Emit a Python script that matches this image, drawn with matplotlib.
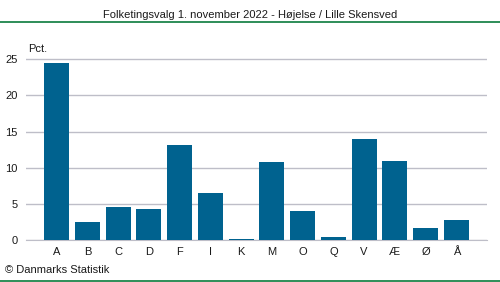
import matplotlib
matplotlib.use('Agg')
import matplotlib.pyplot as plt

plt.rcParams['font.family'] = ['Liberation Sans', 'DejaVu Sans']

parties = ['A', 'B', 'C', 'D', 'F', 'I', 'K', 'M', 'O', 'Q', 'V', 'Æ', 'Ø', 'Å']
pct = [24.5, 2.5, 4.6, 4.3, 13.1, 6.5, 0.2, 10.8, 4.0, 0.4, 14.0, 10.9, 1.7, 2.8]
yticks = [0, 5, 10, 15, 20, 25]

title = 'Folketingsvalg 1. november 2022 - Højelse / Lille Skensved'
bar_color = '#00628f'
grid_color = '#bebec8'
green = '#0a7a3c'

fig = plt.figure(figsize=(5.0, 2.82), dpi=100)
ax = fig.add_axes([26 / 500, 1 - 240 / 282, 461 / 500, 180.7 / 282 * 27 / 25])

x = list(range(len(parties)))
ax.bar(x, pct, width=0.81, color=bar_color, zorder=3)
ax.set_xlim(-1, len(parties))
ax.set_ylim(0, 27)
ax.set_yticks(yticks)
ax.set_xticks(x)
ax.set_xticklabels(parties)
ax.yaxis.grid(True, color=grid_color, linewidth=1, zorder=0)
ax.tick_params(axis='both', length=0, labelsize=8, colors='#1a1a1a')
ax.tick_params(axis='x', pad=5)
ax.tick_params(axis='y', pad=6)
for side in ['top', 'right', 'left']:
    ax.spines[side].set_visible(False)
ax.spines['bottom'].set_color(grid_color)

fig.text(0.5, 1 - 15 / 282, title, ha='center', va='center', fontsize=8, color='#1a1a1a')
fig.text(28 / 500, 1 - 49 / 282, 'Pct.', ha='left', va='center', fontsize=8, color='#1a1a1a')
fig.text(5 / 500, 1 - 270 / 282, '© Danmarks Statistik', ha='left', va='center', fontsize=8, color='#1a1a1a')

fig.add_artist(plt.Line2D([0, 1], [1 - 22 / 282, 1 - 22 / 282], color=green, linewidth=1.2, transform=fig.transFigure))
fig.add_artist(plt.Line2D([0, 1], [1 - 281 / 282, 1 - 281 / 282], color=green, linewidth=1.2, transform=fig.transFigure))

fig.savefig('out.png', dpi=100)
